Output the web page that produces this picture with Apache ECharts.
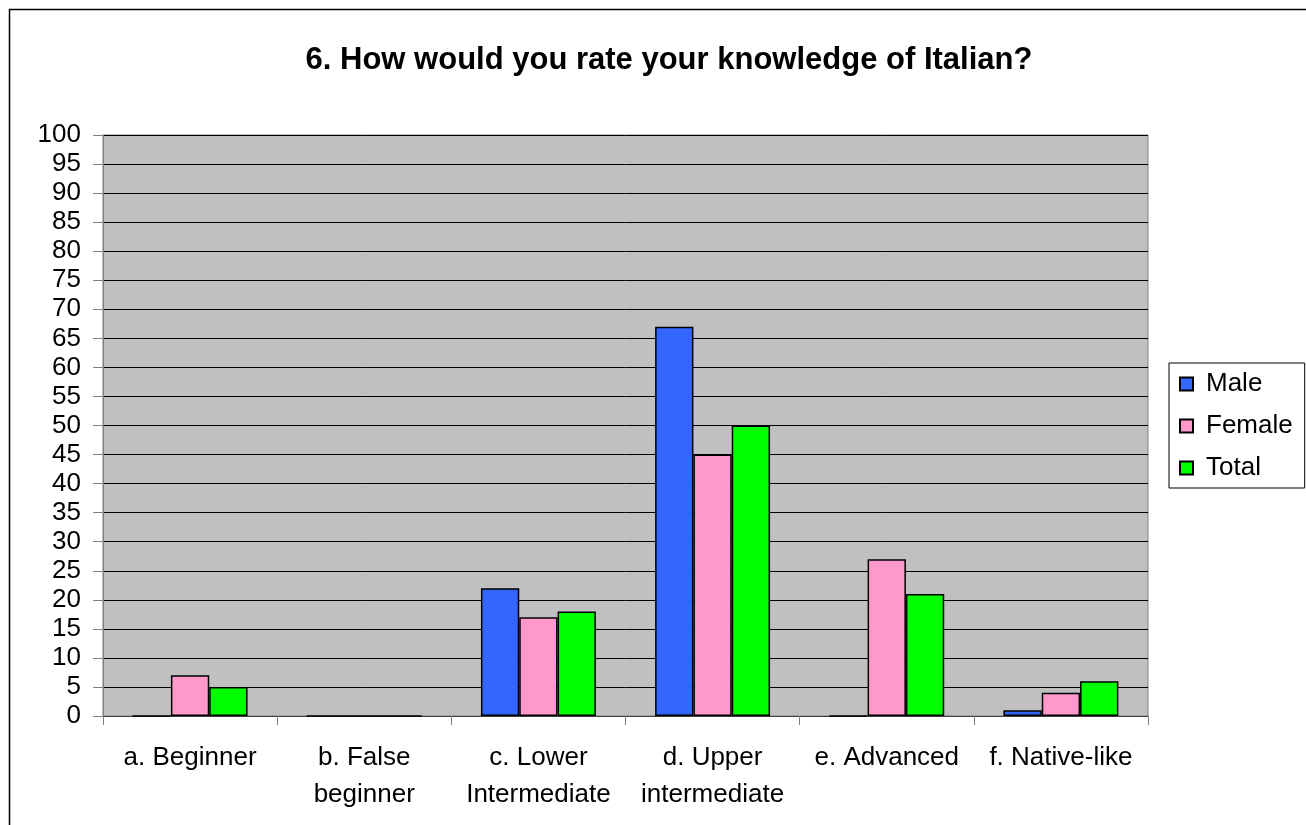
<!DOCTYPE html>
<html><head><meta charset="utf-8">
<script src="https://cdn.jsdelivr.net/npm/echarts@6/dist/echarts.min.js"></script>
<style>html,body{margin:0;padding:0;background:#fff}#c{width:1306px;height:825px}</style>
</head><body><div id="c"></div>
<script>
const categories = ['a. Beginner', 'b. False\nbeginner', 'c. Lower\nIntermediate', 'd. Upper\nintermediate', 'e. Advanced', 'f. Native-like'];
const male = [0, 0, 22, 67, 0, 1];
const female = [7, 0, 17, 45, 27, 4];
const total = [5, 0, 18, 50, 21, 6];
const FONT = '"Liberation Sans", Arial, sans-serif';
const chart = echarts.init(document.getElementById('c'));
const mk = (name, data, color) => ({
  name, type: 'bar', data, barGap: '0%', barCategoryGap: '34%',
  itemStyle: { color, borderColor: '#000', borderWidth: 1.5 }
});
chart.setOption({
  animation: false,
  backgroundColor: '#fff',
  title: { text: '6. How would you rate your knowledge of Italian?', left: 664, textAlign: 'center', top: 40,
    textStyle: { fontFamily: FONT, fontWeight: 'bold', fontSize: 31, color: '#000' } },
  graphic: [{ type: 'rect', shape: { x: 9.5, y: 9.5, width: 1320, height: 840 }, style: { fill: null, stroke: '#000', lineWidth: 1.5 }, z: 100 }],
  legend: { orient: 'vertical', left: 1169, top: 363, padding: [8, 12, 7, 10],
    borderColor: '#000', borderWidth: 1, itemWidth: 13, itemHeight: 13, itemGap: 16, icon: 'rect',
    textStyle: { fontFamily: FONT, fontSize: 26, color: '#000', padding: [0, 0, 0, 8] } },
  grid: { left: 103, right: 158, top: 135, bottom: 109, show: true, backgroundColor: '#C0C0C0', borderColor: '#808080', borderWidth: 1 },
  xAxis: { type: 'category', data: categories,
    axisLine: { lineStyle: { color: '#404040', width: 1 } },
    axisTick: { show: true, length: 9, lineStyle: { color: '#808080' } },
    axisLabel: { fontFamily: FONT, fontSize: 26, color: '#000', margin: 23, lineHeight: 37, interval: 0 } },
  yAxis: { type: 'value', min: 0, max: 100, interval: 5,
    axisLine: { show: true, lineStyle: { color: '#808080' } },
    axisTick: { show: true, length: 10, lineStyle: { color: '#808080' } },
    splitLine: { lineStyle: { color: '#000', width: 1 } },
    axisLabel: { fontFamily: FONT, fontSize: 26, color: '#000', margin: 22 } },
  series: [mk('Male', male, '#3366FF'), mk('Female', female, '#FF99CC'), mk('Total', total, '#00FF00')]
});
</script></body></html>
